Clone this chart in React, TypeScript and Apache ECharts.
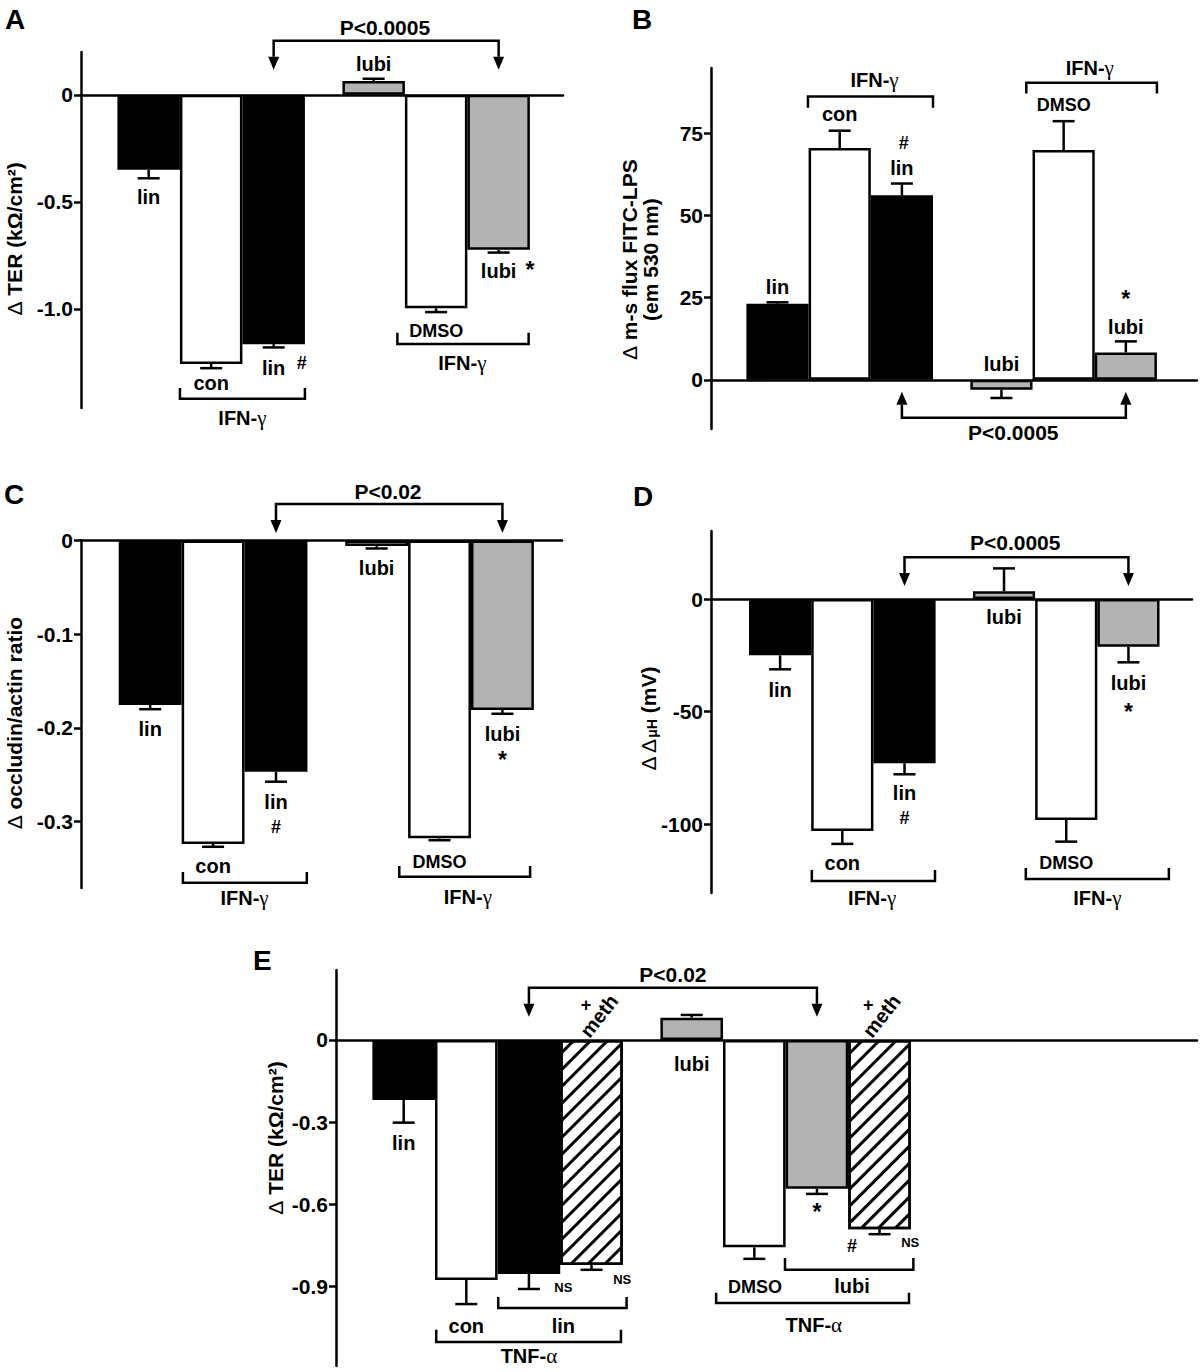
import React, { useEffect, useRef } from 'react';
import * as echarts from 'echarts';

// ---------------- data ----------------
// Panel A: Δ TER (kΩ/cm²), IFN-γ
const aValues = [-0.35, -1.257, -1.165, 0.065, -0.997, -0.724];
const aSem = [0.04, 0.02, 0.015, 0.01, 0.018, 0.013];
const aKinds = ['lin', 'con', 'lin', 'lubi', 'con', 'lubi'];
const aTicks = [0, -0.5, -1.0];
const aTickLabels = ['0', '-0.5', '-1.0'];

// Panel B: Δ m-s flux FITC-LPS
const bValues = [23.2, 70.6, 56.2, -3.05, 70.0, 8.3];
const bSem = [0.4, 5.3, 3.6, 2.5, 8.8, 3.4];
const bKinds = ['lin', 'con', 'lin', 'lubi', 'con', 'lubi'];
const bTicks = [0, 25, 50, 75];
const bTickLabels = ['0', '25', '50', '75'];

// Panel C: Δ occludin/actin ratio
const cValues = [-0.1756, -0.324, -0.247, -0.006, -0.318, -0.181];
const cSem = [0.0045, 0.003, 0.0105, 0.0025, 0.002, 0.004];
const cKinds = ['lin', 'con', 'lin', 'lubi', 'con', 'lubi'];
const cTicks = [0, -0.1, -0.2, -0.3];
const cTickLabels = ['0', '-0.1', '-0.2', '-0.3'];

// Panel D: Δ Δ μH (mV)
const dValues = [-25.0, -103.0, -72.9, 3.5, -98.1, -21.2];
const dSem = [6.2, 5.7, 4.9, 10.1, 9.6, 6.9];
const dKinds = ['lin', 'con', 'lin', 'lubi', 'con', 'lubi'];
const dTicks = [0, -50, -100];
const dTickLabels = ['0', '-50', '-100'];

// Panel E: Δ TER (kΩ/cm²), TNF-α
const eValues = [-0.219, -0.876, -0.854, -0.821, 0.081, -0.757, -0.543, -0.691];
const eSem = [0.083, 0.088, 0.055, 0.018, 0.01, 0.042, 0.019, 0.018];
const eKinds = ['lin', 'con', 'lin', 'meth', 'lubi', 'con', 'lubi', 'meth'];
const eTicks = [0, -0.3, -0.6, -0.9];
const eTickLabels = ['0', '-0.3', '-0.6', '-0.9'];

// ---------------- layout / style ----------------
const FONT = '"Liberation Sans", Arial, Helvetica, sans-serif';
const SERIF = '"Liberation Serif", "DejaVu Serif", serif';
const LW = 2.5;

const SIX_POS = [0, 1, 2, 3.6, 4.6, 5.6];
const EIGHT_POS = [0, 1, 2, 3, 4.6, 5.6, 6.6, 7.6];

const FILL: Record<string, any> = {
  lin: { color: '#000000' },
  con: { color: '#ffffff' },
  lubi: { color: '#b3b3b3' },
  meth: {
    color: '#ffffff',
    decal: {
      symbol: 'rect',
      symbolSize: 1,
      color: '#000000',
      dashArrayX: [1, 0],
      dashArrayY: [3, 9],
      rotation: -Math.PI / 4,
    },
  },
};

const TEXT_STYLES: Record<string, { size: number; dy?: number; weight?: string }> = {
  lab: { size: 20 },
  p: { size: 21 },
  small: { size: 18 },
  ns: { size: 13 },
  hash: { size: 18 },
  star: { size: 23, dy: 3 },
  plus: { size: 18 },
  title: { size: 21 },
};

const RICH: any = {
  b: { fontFamily: FONT, fontWeight: 'bold', fontSize: 20, fill: '#000' },
  g: { fontFamily: SERIF, fontWeight: 'normal', fontSize: 21, fill: '#000' },
  d: { fontFamily: FONT, fontWeight: 'normal', fontSize: 21, fill: '#000' },
  s: { fontFamily: FONT, fontWeight: 'bold', fontSize: 14, fill: '#000', verticalAlign: 'bottom', lineHeight: 14 },
};

const IFN = '{b|IFN-}{g|γ}';
const TNF = '{b|TNF-}{g|α}';
const TER_TITLE = '{d|Δ} TER (kΩ/cm²)';

type Note =
  | { k: 't'; x: number; y: number; text: string; st?: string; rot?: number }
  | { k: 'br'; x1: number; x2: number; y: number; end: number }
  | { k: 'ar'; x1: number; x2: number; y: number; tip: number };

const T = (x: number, y: number, text: string, st = 'lab', rot = 0): Note => ({ k: 't', x, y, text, st, rot });
const BR = (x1: number, x2: number, y: number, end: number): Note => ({ k: 'br', x1, x2, y, end });
const AR = (x1: number, x2: number, y: number, tip: number): Note => ({ k: 'ar', x1, x2, y, tip });
const R90 = Math.PI / 2;
const RMETH = (52 * Math.PI) / 180;

const aNotes: Note[] = [
  AR(2, 5.6, 0.252, 0.117),
  T(3.78, 0.313, 'P<0.0005', 'p'),
  T(0, -0.477, 'lin'),
  T(1, -1.346, 'con'),
  T(2, -1.276, 'lin'),
  T(2.45, -1.252, '#', 'hash'),
  T(3.6, 0.145, 'lubi'),
  T(4.6, -1.103, 'DMSO', 'small'),
  T(5.6, -0.822, 'lubi'),
  T(6.1, -0.804, '*', 'star'),
  BR(0.5, 2.5, -1.42, -1.369),
  T(1.5, -1.509, IFN),
  BR(3.98, 6.08, -1.164, -1.112),
  T(5.02, -1.252, IFN),
  T(-2.14, -0.673, TER_TITLE, 'title', R90),
];

const bNotes: Note[] = [
  T(0, 28.4, 'lin'),
  BR(0.49, 2.5, 86.3, 82.9),
  T(1.56, 91.2, IFN),
  T(1, 81.1, 'con'),
  T(2.03, 72, '#', 'hash'),
  T(2, 64.6, 'lin'),
  BR(4.0, 6.1, 90.5, 87.2),
  T(5.02, 95.1, IFN),
  T(4.6, 83.8, 'DMSO', 'small'),
  T(3.6, 4.9, 'lubi'),
  T(5.6, 25.6, '*', 'star'),
  T(5.6, 16.2, 'lubi'),
  AR(2, 5.6, -11.6, -3.66),
  T(3.79, -16.2, 'P<0.0005', 'p'),
  T(-2.21, 36.6, '{d|Δ} m-s flux FITC-LPS\n(em 530 nm)', 'title', R90),
];

const cNotes: Note[] = [
  AR(2, 5.6, 0.039, 0.008),
  T(3.78, 0.0518, 'P<0.02', 'p'),
  T(0, -0.201, 'lin'),
  T(1, -0.348, 'con'),
  T(2, -0.279, 'lin'),
  T(2, -0.306, '#', 'hash'),
  T(3.6, -0.0293, 'lubi'),
  T(4.6, -0.343, 'DMSO', 'small'),
  T(5.6, -0.2065, 'lubi'),
  T(5.6, -0.231, '*', 'star'),
  BR(0.52, 2.49, -0.3655, -0.354),
  T(1.5, -0.3815, IFN),
  BR(3.96, 6.04, -0.359, -0.3474),
  T(5.05, -0.3805, IFN),
  T(-2.15, -0.195, '{d|Δ} occludin/actin ratio', 'title', R90),
];

const dNotes: Note[] = [
  AR(2, 5.6, 18.6, 5.8),
  T(3.78, 24.9, 'P<0.0005', 'p'),
  T(0, -40.4, 'lin'),
  T(1, -117.2, 'con'),
  T(2, -86.1, 'lin'),
  T(2, -97.2, '#', 'hash'),
  T(3.6, -8.0, 'lubi'),
  T(4.6, -117.2, 'DMSO', 'small'),
  T(5.6, -37.3, 'lubi'),
  T(5.6, -48.8, '*', 'star'),
  BR(0.51, 2.49, -125.2, -120.3),
  T(1.48, -132.7, IFN),
  BR(3.95, 6.25, -124.3, -119.4),
  T(5.1, -132.7, IFN),
  T(-2.12, -53.3, '{d|Δ Δ}{s|μH} (mV)', 'title', R90),
];

const eNotes: Note[] = [
  AR(2, 6.6, 0.19, 0.084),
  T(4.3, 0.237, 'P<0.02', 'p'),
  T(3.12, 0.0876, 'meth', 'lab', RMETH),
  T(2.91, 0.128, '+', 'plus'),
  T(7.63, 0.0876, 'meth', 'lab', RMETH),
  T(7.42, 0.128, '+', 'plus'),
  T(0, -0.376, 'lin'),
  T(2.55, -0.905, 'NS', 'ns'),
  T(3.49, -0.876, 'NS', 'ns'),
  T(4.6, -0.0876, 'lubi'),
  T(6.6, -0.617, '*', 'star'),
  T(7.16, -0.752, '#', 'hash'),
  T(8.09, -0.741, 'NS', 'ns'),
  BR(6.09, 8.14, -0.839, -0.796),
  T(7.16, -0.898, 'lubi'),
  T(5.61, -0.901, 'DMSO', 'small'),
  BR(4.99, 8.07, -0.96, -0.923),
  T(6.55, -1.04, TNF),
  BR(1.51, 3.56, -0.978, -0.938),
  T(2.55, -1.044, 'lin'),
  T(1, -1.044, 'con'),
  BR(0.52, 3.47, -1.102, -1.058),
  T(2.0, -1.155, TNF),
  T(-2.04, -0.358, TER_TITLE, 'title', R90),
];

type Panel = {
  values: number[];
  sem: number[];
  kinds: string[];
  pos: number[];
  grid: { left: number; top: number; width: number; height: number };
  x: [number, number];
  y: [number, number];
  ticks: number[];
  tickLabels: string[];
  notes: Note[];
};

const PANELS: Panel[] = [
  { values: aValues, sem: aSem, kinds: aKinds, pos: SIX_POS, grid: { left: 81, top: 52, width: 482, height: 356 }, x: [-1.083, 6.63], y: [-1.463, 0.2], ticks: aTicks, tickLabels: aTickLabels, notes: aNotes },
  { values: bValues, sem: bSem, kinds: bKinds, pos: SIX_POS, grid: { left: 711, top: 68, width: 486, height: 361 }, x: [-1.069, 6.744], y: [-15, 95], ticks: bTicks, tickLabels: bTickLabels, notes: bNotes },
  { values: cValues, sem: cSem, kinds: cKinds, pos: SIX_POS, grid: { left: 81, top: 540.5, width: 481, height: 347.5 }, x: [-1.1, 6.547], y: [-0.371, 0], ticks: cTicks, tickLabels: cTickLabels, notes: cNotes },
  { values: dValues, sem: dSem, kinds: dKinds, pos: SIX_POS, grid: { left: 711, top: 531, width: 481, height: 362 }, x: [-1.111, 6.622], y: [-130.5, 30.2], ticks: dTicks, tickLabels: dTickLabels, notes: dNotes },
  { values: eValues, sem: eSem, kinds: eKinds, pos: EIGHT_POS, grid: { left: 336, top: 970, width: 861, height: 396 }, x: [-1.081, 12.67], y: [-1.19, 0.255], ticks: eTicks, tickLabels: eTickLabels, notes: eNotes },
];

const LETTERS = [
  { text: 'A', left: 5, top: 5 },
  { text: 'B', left: 632, top: 5 },
  { text: 'C', left: 4, top: 480 },
  { text: 'D', left: 633, top: 482 },
  { text: 'E', left: 253, top: 946 },
];

const lineStyle = { color: '#000', width: LW };

function textEl(px: number[], note: any) {
  const st = TEXT_STYLES[note.st || 'lab'];
  return {
    type: 'text',
    x: px[0],
    y: px[1] + (st.dy || 0),
    rotation: note.rot || 0,
    style: {
      text: note.text,
      rich: RICH,
      fill: '#000',
      fontFamily: FONT,
      fontWeight: st.weight || 'bold',
      fontSize: st.size,
      align: 'center',
      verticalAlign: 'middle',
      textAlign: 'center',
      textVerticalAlign: 'middle',
    },
  };
}

function renderNote(note: Note, api: any) {
  if (note.k === 't') {
    return textEl(api.coord([note.x, note.y]), note);
  }
  if (note.k === 'br') {
    const a = api.coord([note.x1, note.y]);
    const b = api.coord([note.x2, note.y]);
    const ea = api.coord([note.x1, note.end]);
    const eb = api.coord([note.x2, note.end]);
    return {
      type: 'polyline',
      shape: { points: [[a[0], ea[1]], a, b, [b[0], eb[1]]] },
      style: { stroke: '#000', lineWidth: LW, fill: null },
    };
  }
  const a = api.coord([note.x1, note.y]);
  const b = api.coord([note.x2, note.y]);
  const ta = api.coord([note.x1, note.tip]);
  const tb = api.coord([note.x2, note.tip]);
  const dir = Math.sign(ta[1] - a[1]);
  const AH = 13;
  const AW = 5.5;
  const baseA = ta[1] - dir * AH;
  const baseB = tb[1] - dir * AH;
  return {
    type: 'group',
    children: [
      {
        type: 'polyline',
        shape: { points: [[a[0], baseA], a, b, [b[0], baseB]] },
        style: { stroke: '#000', lineWidth: LW, fill: null },
      },
      {
        type: 'polygon',
        shape: { points: [[ta[0], ta[1]], [ta[0] - AW, baseA], [ta[0] + AW, baseA]] },
        style: { fill: '#000' },
      },
      {
        type: 'polygon',
        shape: { points: [[tb[0], tb[1]], [tb[0] - AW, baseB], [tb[0] + AW, baseB]] },
        style: { fill: '#000' },
      },
    ],
  };
}

function renderErr(params: any, api: any) {
  const x = api.value(0);
  const v = api.value(1);
  const e = api.value(2);
  const p0 = api.coord([x, v]);
  const p1 = api.coord([x, e]);
  const cap = 11;
  return {
    type: 'group',
    children: [
      { type: 'line', shape: { x1: p0[0], y1: p0[1], x2: p1[0], y2: p1[1] }, style: { stroke: '#000', lineWidth: LW } },
      { type: 'line', shape: { x1: p1[0] - cap, y1: p1[1], x2: p1[0] + cap, y2: p1[1] }, style: { stroke: '#000', lineWidth: LW } },
    ],
  };
}

function buildOption() {
  const series: any[] = [];
  PANELS.forEach((p, i) => {
    const slotPx = p.grid.width / (p.x[1] - p.x[0]);
    series.push({
      type: 'bar',
      xAxisIndex: i,
      yAxisIndex: i,
      barWidth: slotPx,
      itemStyle: { borderColor: '#000', borderWidth: LW },
      data: p.values.map((v, k) => ({ value: [p.pos[k], v], itemStyle: FILL[p.kinds[k]] })),
      z: 2,
    });
    series.push({
      type: 'custom',
      xAxisIndex: i,
      yAxisIndex: i,
      renderItem: renderErr,
      data: p.values.map((v, k) => [p.pos[k], v, v + Math.sign(v) * p.sem[k]]),
      encode: { x: 0, y: 1 },
      z: 3,
      silent: true,
    });
    series.push({
      type: 'custom',
      xAxisIndex: i,
      yAxisIndex: i,
      renderItem: (params: any, api: any) => renderNote(p.notes[params.dataIndex], api),
      data: p.notes.map((n: any) => [n.k === 't' ? n.x : n.x1, n.y]),
      encode: { x: 0, y: 1 },
      z: 4,
      silent: true,
      clip: false,
    });
  });

  return {
    animation: false,
    backgroundColor: '#ffffff',
    title: LETTERS.map((l) => ({
      text: l.text,
      left: l.left,
      top: l.top,
      padding: 0,
      textStyle: { fontFamily: FONT, fontWeight: 'bold', fontSize: 28, color: '#000' },
    })),
    grid: PANELS.map((p) => ({ ...p.grid, containLabel: false })),
    xAxis: PANELS.map((p, i) => ({
      type: 'value',
      gridIndex: i,
      min: p.x[0],
      max: p.x[1],
      axisLine: { show: true, onZero: true, lineStyle },
      axisTick: { show: false },
      axisLabel: { show: false },
      splitLine: { show: false },
    })),
    yAxis: PANELS.map((p, i) => ({
      type: 'value',
      gridIndex: i,
      min: p.y[0],
      max: p.y[1],
      axisLine: { show: true, onZero: false, lineStyle },
      axisTick: { show: true, customValues: p.ticks, length: 7, lineStyle },
      axisLabel: {
        customValues: p.ticks,
        formatter: (v: number) => {
          const k = p.ticks.findIndex((t) => Math.abs(t - v) < 1e-9);
          return k >= 0 ? p.tickLabels[k] : '';
        },
        fontFamily: FONT,
        fontWeight: 'bold',
        fontSize: 21,
        color: '#000',
        margin: 8,
      },
      splitLine: { show: false },
    })),
    series,
  };
}

export default function App() {
  const ref = useRef<HTMLDivElement>(null);
  useEffect(() => {
    if (!ref.current) return;
    document.body.style.margin = '0';
    const chart = echarts.init(ref.current, undefined, { renderer: 'svg' });
    chart.setOption(buildOption() as any);
    return () => chart.dispose();
  }, []);
  return (
    <div
      ref={ref}
      style={{ position: 'absolute', left: 0, top: 0, width: 1200, height: 1372, background: '#fff' }}
    />
  );
}
